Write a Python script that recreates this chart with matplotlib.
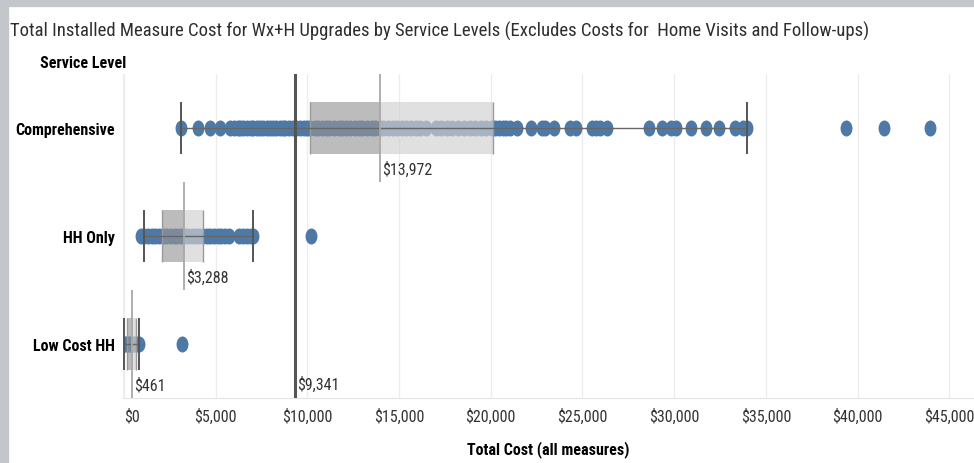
import matplotlib.pyplot as plt
from matplotlib import font_manager
from matplotlib.path import Path
from matplotlib.ticker import FuncFormatter
import numpy as np

# Service levels, top to bottom
levels = ["Comprehensive", "HH Only", "Low Cost HH"]

# Individual project costs
comprehensive = [3110, 4020, 4690, 5230, 5780, 6000, 6200, 6350, 6500, 6700, 6900, 7050,
                 7250, 7400, 7600, 7800, 7950, 8100, 8300, 8500, 8650, 8800, 9000, 9200,
                 9400, 9600, 9800, 10000, 10150, 10400, 10600, 10800, 11000, 11200, 11450,
                 11700, 11900, 12100, 12350, 12600, 12800, 13000, 13250, 13500, 13700, 13950,
                 14150, 14400, 14650, 14900, 15150, 15400, 15650, 15900, 16150, 16450, 17000,
                 17300, 17600, 17900, 18200, 18550, 18850, 19150, 19450, 19750, 20050, 20250,
                 20450, 20650, 20850, 21050, 21450, 22200, 22800, 22950, 23450, 24300, 24650,
                 25500, 25750, 25950, 26350, 28650, 29350, 29850, 30100, 30900, 31750, 32450,
                 33300, 33750, 33950, 39350, 41450, 43950]
hh_only = [910, 1100, 1300, 1500, 1700, 1900, 2100, 2300, 2500, 2700, 2900, 3100, 3300,
           3500, 3700, 3900, 4100, 4300, 4500, 4700, 4900, 5100, 5300, 5500, 5750, 6250,
           6500, 6700, 6900, 7050, 10180]
low_cost_hh = [0, 100, 200, 300, 400, 500, 600, 700, 830, 3180]

# Box plot stats per level
whisker_lo = [3110, 1090, 0]
q1 = [10140, 2050, 150]
median = [13972, 3288, 461]
q3 = [20120, 4320, 650]
whisker_hi = [33950, 7020, 830]

overall_avg = 9341

names = {f.name for f in font_manager.fontManager.ttflist}
font = "DejaVu Sans"
for cand in ["Roboto Condensed", "Archivo Narrow", "Barlow Semi Condensed", "Liberation Sans"]:
    if cand in names:
        font = cand
        break
plt.rcParams["font.family"] = [font, "DejaVu Sans"]

fig = plt.figure(figsize=(9.74, 4.64), dpi=100)
# window frame strips
fig.patches.append(plt.Rectangle((0, 0), 8 / 974, 1, transform=fig.transFigure,
                                 color="#c3c7cb", zorder=0))
fig.patches.append(plt.Rectangle((0, 1 - 7 / 464), 1, 7 / 464, transform=fig.transFigure,
                                 color="#c3c7cb", zorder=0))

ax = fig.add_axes([123 / 974, 1 - 399 / 464, 1 - 123 / 974, 324 / 464])

# slightly tall oval marker
circ = Path.unit_circle()
oval = Path(circ.vertices * np.array([0.72, 1.0]), circ.codes)

dot_color = "#4e79a7"
half = 0.245
for i, vals in enumerate([comprehensive, hh_only, low_cost_hh]):
    ax.plot(vals, [i] * len(vals), linestyle="none", marker=oval, markersize=10.5,
            color=dot_color, zorder=2)
    ax.barh(i, median[i] - q1[i], left=q1[i], height=2 * half, color=(0.59, 0.59, 0.59),
            alpha=0.63, zorder=3)
    ax.barh(i, q3[i] - median[i], left=median[i], height=2 * half, color=(0.82, 0.82, 0.82),
            alpha=0.67, zorder=3)
    ax.vlines([q1[i], q3[i]], i - half, i + half, color="#9a9a9a", lw=1, zorder=4)
    ax.hlines(i, whisker_lo[i], whisker_hi[i], color="#666666", lw=1, zorder=4)
    ax.vlines([whisker_lo[i], whisker_hi[i]], i - half, i + half, color="#555555", lw=1.4,
              zorder=4)
    ax.vlines(median[i], i - 0.5, i + 0.5, color="#a8a8a8", lw=1.3, zorder=5)
    ax.annotate(f"${median[i]:,}", (median[i], i + 0.38), xytext=(1.5, 0),
                textcoords="offset points", va="center", ha="left", fontsize=11.5,
                color="#333333", zorder=6)

ax.axvline(overall_avg, color="#555555", lw=2.2, zorder=5)
ax.annotate(f"${overall_avg:,}", (overall_avg, 2.37), xytext=(1.5, 0),
            textcoords="offset points", va="center", ha="left", fontsize=11.5,
            color="#333333", zorder=6)

ax.set_xlim(-55, 46350)
ax.set_ylim(2.5, -0.5)
ax.set_xticks(range(0, 45001, 5000))
ax.xaxis.set_major_formatter(FuncFormatter(lambda v, p: f"${int(v):,}"))
ax.tick_params(axis="x", length=0, pad=7, labelsize=11.5, labelcolor="#333333")
ax.get_xticklabels()[0].set_horizontalalignment("left")
ax.set_yticks(range(3))
ax.set_yticklabels(levels, fontsize=11.5, fontweight="bold")
ax.tick_params(axis="y", length=0, pad=6)
ax.grid(axis="x", color="#ececec", lw=0.9, zorder=0)
ax.set_axisbelow(True)
for s in ["top", "right"]:
    ax.spines[s].set_visible(False)
ax.spines["left"].set_color("#eeeeee")
ax.spines["bottom"].set_color("#e4e4e4")

ax.set_xlabel("Total Cost (all measures)", fontsize=11.5, fontweight="bold", labelpad=12)

fig.text(10 / 974, 1 - 31 / 464,
         "Total Installed Measure Cost for Wx+H Upgrades by Service Levels "
         "(Excludes Costs for  Home Visits and Follow-ups)",
         fontsize=13.5, va="center", ha="left", color="#2e2e2e")
fig.text(40 / 974, 1 - 63 / 464, "Service Level", fontsize=11.5, fontweight="bold",
         va="center", ha="left")

fig.savefig("out.png", dpi=100)
